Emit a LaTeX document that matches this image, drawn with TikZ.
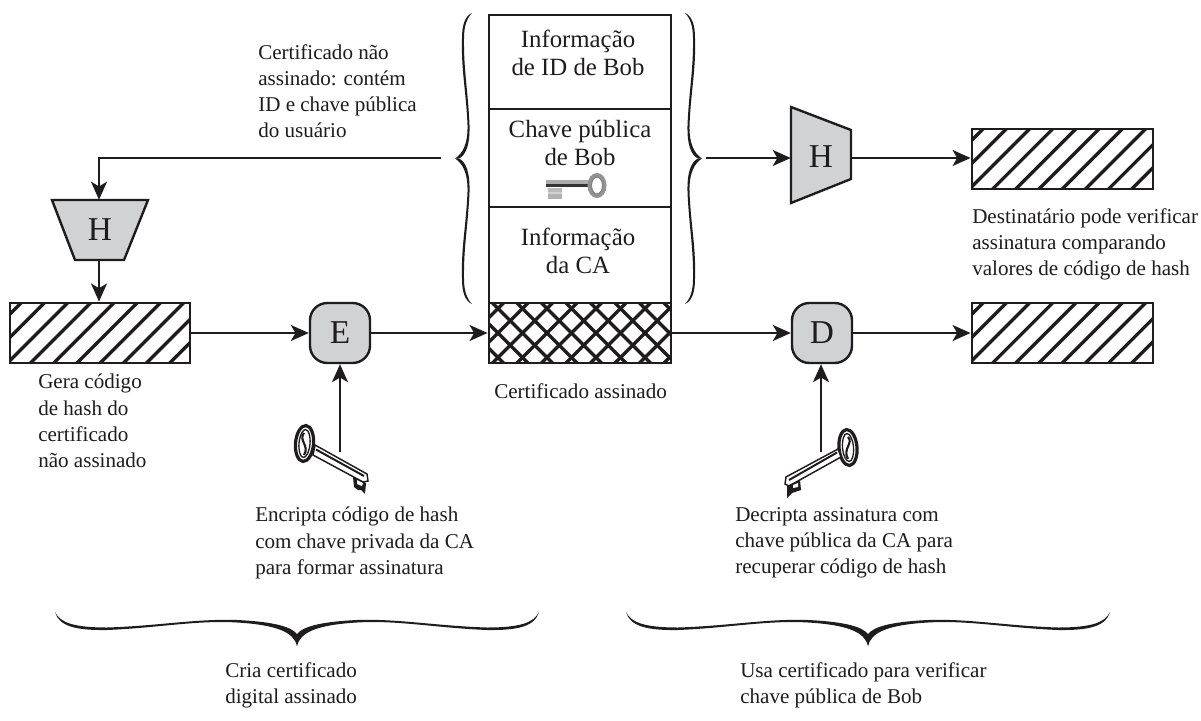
\documentclass[tikz,border=0pt]{standalone}
\usepackage{fontspec}
\setmainfont{Liberation Serif}
\usetikzlibrary{arrows.meta,calc}
\definecolor{boxgray}{RGB}{208,210,212}
\definecolor{inkk}{RGB}{30,28,29}
\newcommand{\hatchlines}[4]{% x0,y0,x1,y1
  \begin{scope}
    \clip (#1,#2) rectangle (#3,#4);
    \foreach \k in {0,1,...,12}{
      \draw[line width=2.5pt,inkk] ({#1-50+\k*23.2},#4+1) -- ++(62,-62);
    }
  \end{scope}
}
\newcommand{\crosslines}[4]{%
  \begin{scope}
    \clip (#1,#2) rectangle (#3,#4);
    \foreach \k in {0,1,...,13}{
      \draw[line width=2.6pt,inkk] ({#1-71+\k*24.5},#4+1) -- ++(62,-62);
      \draw[line width=2.6pt,inkk] ({#1-71+\k*24.5},#2-1) -- ++(62,62);
    }
  \end{scope}
}
% half of a horizontal brace, tip at u=0, end at u=242
\newcommand{\hbracehalf}{%
  \fill[inkk] (0,646) .. controls (3,633) and (18,625) .. (60,622.5)
    .. controls (100,620) and (140,628) .. (190,630)
    .. controls (222,630.5) and (238,626) .. (242,612)
    .. controls (237,623) and (222,627.5) .. (190,627.5)
    .. controls (140,626) and (100,618.5) .. (60,620)
    .. controls (18,622) and (5,628) .. (0,634) -- cycle;
}
% upper half of the left vertical brace
\newcommand{\vbracehalf}{%
  \fill[inkk] (455,158.5) .. controls (462,154) and (468,145) .. (467.5,125)
    .. controls (466,90) and (461,70) .. (462,38)
    .. controls (462,25) and (465,16) .. (472,13)
    .. controls (467,18) and (464,26) .. (464,38)
    .. controls (463.5,70) and (468,90) .. (469.5,125)
    .. controls (470,145) and (466,155) .. (459,158.5) -- cycle;
}
\tikzset{
  x=0.75pt,y=-0.75pt,
  ink/.style={draw=inkk,line width=1.5pt},
  arr/.style={draw=inkk,line width=1.5pt,-{Stealth[length=13.5pt,width=12pt,inset=3.5pt]}},
  frame/.style={draw=inkk,line width=2.2pt,rectangle,inner sep=0pt},
  ghost/.style={rectangle,inner sep=0pt,font=\fontsize{25}{25}\selectfont,text=inkk},
  roundbox/.style={draw=inkk,line width=1.8pt,fill=boxgray,rectangle,rounded corners=13pt,inner sep=0pt,minimum width=45pt,minimum height=45pt,font=\fontsize{25}{25}\selectfont,text=inkk},
  lbl/.style={anchor=north west,inner sep=0pt,align=left,text=inkk,font=\fontsize{15.8}{19.6}\selectfont},
  big/.style={anchor=center,inner sep=0pt,align=center,text=inkk,font=\fontsize{18.6}{21.5}\selectfont},
  shape2/.style={fill=boxgray,draw=inkk,line width=1.8pt,line join=miter},
}
\begin{document}
\begin{tikzpicture}
\useasboundingbox (0,0) rectangle (1201,720);
\fill[white] (0,0) rectangle (1201,720);

% hash boxes
\hatchlines{10}{303}{190}{363}
\node[frame,minimum width=135pt,minimum height=45pt] (hashL) at (100,333) {};
\hatchlines{972}{129}{1153}{189}
\node[frame,minimum width=135.75pt,minimum height=45pt] (hashR1) at (1062.5,159) {};
\hatchlines{972}{303}{1153}{363}
\node[frame,minimum width=135.75pt,minimum height=45pt] (hashR2) at (1062.5,333) {};

% certificate
\crosslines{489}{303}{671}{363}
\node[frame,minimum width=136.5pt,minimum height=45pt] (sig) at (580,333) {};
\node[frame,minimum width=136.5pt,minimum height=216pt] (cert) at (580,159) {};
\draw[ink,line width=2pt] (cert.west |- 0,109) -- (cert.east |- 0,109);
\draw[ink,line width=2pt] (cert.west |- 0,207) -- (cert.east |- 0,207);
\node[big] (t1) at (578,53) {Informação\\de ID de Bob};
\node[big] (t2) at (580,143) {Chave pública\\de Bob};
\node[big] (t3) at (578,251) {Informação\\da CA};

% H boxes
\draw[shape2] (52,200) -- (148,200) -- (124,260) -- (75,260) -- cycle;
\node[ghost,minimum width=72pt,minimum height=45pt] (hL) at (100,230) {H};
\draw[shape2] (791,107) -- (851,130) -- (851,179) -- (791,203) -- cycle;
\node[ghost,minimum width=45pt,minimum height=72pt] (hR) at (821,157) {H};

% E D
\node[roundbox] (E) at (340,333) {E};
\node[roundbox] (D) at (822,333) {D};

% free ends
\coordinate (braceL) at (441,158.5);
\coordinate (braceR) at (706,158);
\coordinate (corner) at (99,158.5);
\coordinate (keyE) at (340,452);
\coordinate (keyD) at (821,452);

% connectors
\draw[arr] (braceL) -- (corner) -- (corner |- hL.north);
\draw[arr] (hL.south -| corner) -- (corner |- hashL.north);
\draw[arr] (hashL.east) -- (E.west);
\draw[arr] (E.east) -- (sig.west);
\draw[arr] (sig.east) -- (D.west);
\draw[arr] (D.east) -- (D.east -| hashR2.west);
\draw[arr] (braceR) -- (braceR -| hR.west);
\draw[arr] (hR.east |- braceR) -- (braceR -| hashR1.west);
\draw[arr] (keyE) -- (E.south);
\draw[arr] (keyD) -- (keyD |- D.south);

% vertical braces
\vbracehalf
\begin{scope}[shift={(0,317)},yscale=-1]\vbracehalf\end{scope}
\begin{scope}[shift={(1157,0)},xscale=-1]
  \vbracehalf
  \begin{scope}[shift={(0,317)},yscale=-1]\vbracehalf\end{scope}
\end{scope}

% bottom braces
\begin{scope}[shift={(297,0)}]\hbracehalf\end{scope}
\begin{scope}[shift={(297,0)},xscale=-1]\hbracehalf\end{scope}
\begin{scope}[shift={(868,0)}]\hbracehalf\end{scope}
\begin{scope}[shift={(868,0)},xscale=-1]\hbracehalf\end{scope}

% Bob's key
\fill[gray!65] (546,180.5) rectangle (590,184);
\fill[inkk!90] (546,184) rectangle (590,187.5);
\fill[gray!55] (548,188) rectangle (562,192);
\fill[gray!35] (548,192) rectangle (562,194.5);
\fill[gray!60] (548,194.5) rectangle (562,199);
\draw[line width=3pt,gray!85] (597,185.5) ellipse [x radius=7.5,y radius=10.5];
\draw[line width=0.8pt,gray] (597,185.5) ellipse [x radius=5.5,y radius=8.5];

% left large key
\draw[rotate around={-5:(304.5,443.5)},line width=2.4pt,inkk] (304.5,443.5) ellipse [x radius=9,y radius=18];
\draw[rotate around={-5:(304.5,443.5)},line width=1pt,inkk] (304.5,443.5) ellipse [x radius=5.5,y radius=14];
\draw[line width=1.6pt,inkk] (304,433) .. controls (298,440) and (310,446) .. (304,455);
\draw[line width=1.1pt,inkk,fill=white] (315,445) -- (367,474) -- (368,481) -- (363,482) -- (313,455) -- cycle;
\draw[line width=1.5pt,inkk] (316,449.5) -- (364,476);
\fill[inkk] (353,477) -- (366,483) -- (365,494) -- (361,490) -- (358,490) -- (354,487) -- cycle;
\fill[white] (357,480) -- (363,483) -- (362,486) -- (357,484) -- cycle;
% right large key
\draw[rotate around={5:(848,447.5)},line width=2.4pt,inkk] (848,447.5) ellipse [x radius=9,y radius=18];
\draw[rotate around={5:(848,447.5)},line width=1pt,inkk] (848,447.5) ellipse [x radius=5.5,y radius=14];
\draw[line width=1.6pt,inkk] (848,437) .. controls (854,443) and (842,449) .. (848,459);
\draw[line width=1.1pt,inkk,fill=white] (838,449) -- (786,477) -- (785,484) -- (789,486) -- (841,457) -- cycle;
\draw[line width=1.5pt,inkk] (837,452.5) -- (789,480);
\fill[inkk] (787,486) -- (800,480) -- (801,490) -- (792,493) -- (787,498) -- cycle;
\fill[white] (793,485) -- (798,483) -- (798,487) -- (793,488) -- cycle;

% labels
\node[lbl] (l1) at (258,44) {Certificado não\\assinado: contém\\ID e chave pública\\do usuário};
\node[lbl] (l2) at (972,208) {Destinatário pode verificar\\assinatura comparando\\valores de código de hash};
\node[lbl] (l3) at (38,374) {Gera código\\de hash do\\certificado\\não assinado};
\node[lbl] (l4) at (494,383) {Certificado assinado};
\node[lbl] (l5) at (255,507) {Encripta código de hash\\com chave privada da CA\\para formar assinatura};
\node[lbl] (l6) at (735,507) {Decripta assinatura com\\chave pública da CA para\\recuperar código de hash};
\node[lbl] (l7) at (225,662) {Cria certificado\\digital assinado};
\node[lbl] (l8) at (740,662) {Usa certificado para verificar\\chave pública de Bob};
\end{tikzpicture}
\end{document}
